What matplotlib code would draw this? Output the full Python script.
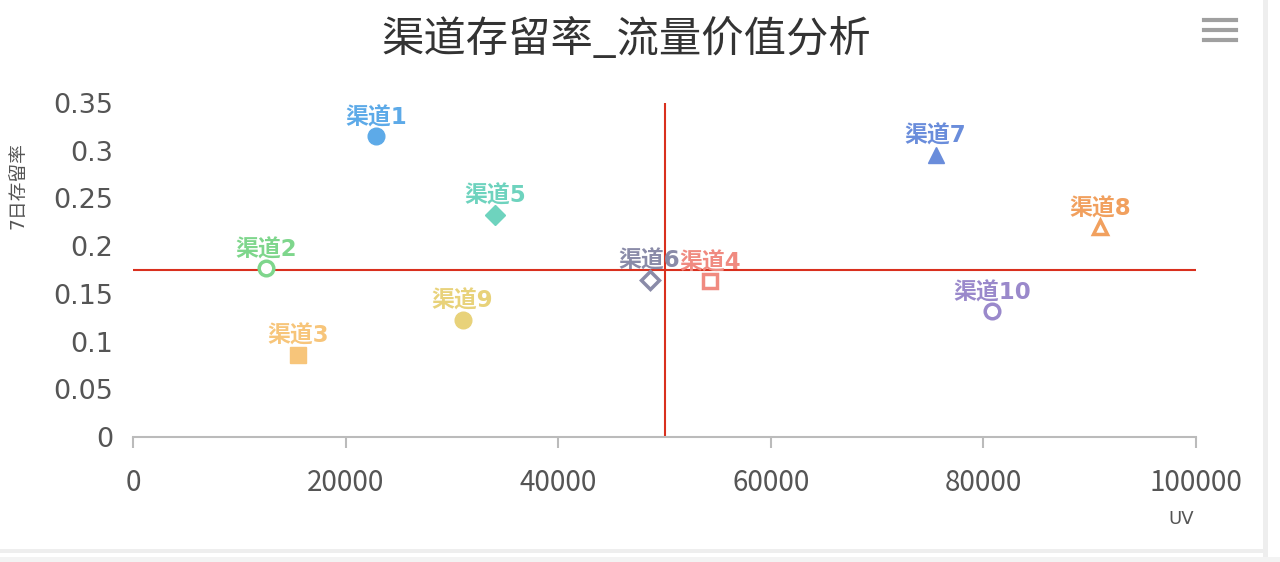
import matplotlib
matplotlib.use("Agg")
import matplotlib.pyplot as plt
from matplotlib.lines import Line2D
from matplotlib.patches import Rectangle

plt.rcParams['font.family'] = ['Noto Sans CJK SC', 'DejaVu Sans']
MIX = ['DejaVu Sans', 'Noto Sans CJK SC']

names = ['渠道1', '渠道2', '渠道3', '渠道4', '渠道5', '渠道6', '渠道7', '渠道8', '渠道9', '渠道10']
uv = [22900, 12500, 15500, 54300, 34100, 48600, 75500, 91000, 31000, 80800]
retention = [0.315, 0.177, 0.086, 0.163, 0.233, 0.165, 0.296, 0.220, 0.123, 0.132]
markers = ['o', 'o', 's', 's', 'D', 'D', '^', '^', 'o', 'o']
filled = [True, False, True, False, True, False, True, False, True, False]
colors = ['#5DAAE8', '#7ED68C', '#F7C57A', '#F08A80', '#6ED3BE',
          '#8A8BA8', '#6A8DDB', '#F1A05E', '#E8D27A', '#9A89CB']
x_ticks = [0, 20000, 40000, 60000, 80000, 100000]
y_ticks = [0, 0.05, 0.1, 0.15, 0.2, 0.25, 0.3, 0.35]
y_tick_labels = ['0', '0.05', '0.1', '0.15', '0.2', '0.25', '0.3', '0.35']
x_ref = 50000
y_ref = 0.175

fig = plt.figure(figsize=(12.8, 5.62), dpi=100)
ax = fig.add_axes([133/1280, 1-437/562, (1196-133)/1280, (437-103)/562])

ax.axvline(x_ref, color='#D9301E', lw=1.5, zorder=1)
ax.axhline(y_ref, color='#D9301E', lw=1.5, zorder=1)

sizes = {'o': 12, 's': 11.5, 'D': 10.5, '^': 11}
for n, x, y, m, f, c in zip(names, uv, retention, markers, filled, colors):
    ms = sizes[m] if f else sizes[m] - 1.5
    if f:
        ax.plot([x], [y], marker=m, ms=ms, color=c, mec=c, ls='none', zorder=3)
    else:
        ax.plot([x], [y], marker=m, ms=ms, mfc='white', mec=c, mew=2.5, ls='none', zorder=3)
    ax.annotate(n, (x, y), xytext=(0, 5), textcoords='offset points',
                ha='center', va='bottom', fontsize=16.5, fontweight='bold',
                color=c, zorder=4, family=MIX)

ax.set_xlim(0, 100000)
ax.set_ylim(0, 0.35)
ax.set_xticks(x_ticks)
ax.set_xticklabels([str(v) for v in x_ticks])
ax.set_yticks(y_ticks)
ax.set_yticklabels(y_tick_labels, family='DejaVu Sans')

for s in ['top', 'right', 'left']:
    ax.spines[s].set_visible(False)
ax.spines['bottom'].set_color('#BBBBBB')
ax.spines['bottom'].set_linewidth(1.5)
ax.tick_params(axis='x', colors='#BBBBBB', length=8, width=1.5, labelcolor='#555555',
               labelsize=20, pad=14)
ax.tick_params(axis='y', length=0, labelcolor='#555555', labelsize=19.5, pad=14)

fig.text(18/1280, 1-186/562, '7日存留率', rotation=90, ha='center', va='center',
         fontsize=13.5, color='#555555', family=MIX)
fig.text(1181/1280, 1-519/562, 'UV', ha='center', va='center', fontsize=13,
         color='#555555', family='DejaVu Sans')
fig.text(626/1280, 1-40/562, '渠道存留率_流量价值分析', ha='center', va='center',
         fontsize=30.5, color='#333333')

# menu icon
for yy in [20, 30, 40]:
    fig.add_artist(Line2D([1204/1280, 1236/1280], [1-yy/562, 1-yy/562],
                          color='#A0A0A0', lw=3, transform=fig.transFigure))

# light frame
fig.add_artist(Rectangle((1263/1280, 0), 5/1280, 1, transform=fig.transFigure,
                         color='#EEEEEE', lw=0))
fig.add_artist(Rectangle((0, 1-553/562), 1265/1280, 4/562, transform=fig.transFigure,
                         color='#EEEEEE', lw=0))
fig.add_artist(Rectangle((0, 0), 1, 1-557/562, transform=fig.transFigure,
                         color='#F3F3F3', lw=0))

fig.savefig('out.png', dpi=100)
